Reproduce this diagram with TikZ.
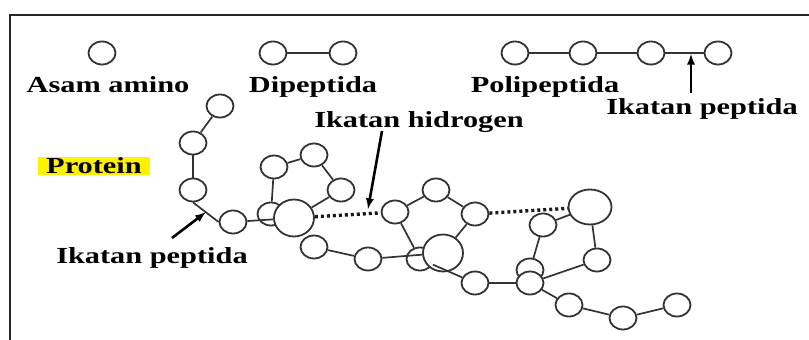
\documentclass[tikz,border=0pt]{standalone}
\usepackage{fontspec}
\newfontfamily\lblfont[FakeStretch=1.32]{Liberation Serif}
\usetikzlibrary{arrows,shapes,calc}

\tikzset{
  amino/.style={ellipse,draw=black!80,line width=1.8pt,minimum width=27pt,minimum height=23pt,inner sep=0pt},
  bigamino/.style={amino,fill=white,minimum width=40pt,minimum height=37pt},
  bond/.style={draw=black!80,line width=1.7pt},
  hbond/.style={draw=black!90,line width=3.4pt,dash pattern=on 3pt off 3pt},
  lbl/.style={font=\lblfont\bfseries\fontsize{23}{26}\selectfont,inner sep=0pt,anchor=base},
  pointer/.style={-latex,line width=2.6pt},
}

\begin{document}
\begin{tikzpicture}[x=1pt,y=-1pt]
\useasboundingbox (0,0) rectangle (809,340);
% frame
\draw[line width=2.2pt,black!85] (10,340) -- (10,15) -- (809,15);

% Amino acid, dipeptide, polypeptide
\node[amino] (aa) at (102,53) {};
\node[lbl] (aalbl) at (108,92) {Asam amino};
\node[amino] (dp1) at (273,53) {};
\node[amino] (dp2) at (343,53) {};
\draw[bond] (dp1) -- (dp2);
\node[lbl] (dplbl) at (313,92) {Dipeptida};
\foreach \i/\x in {1/515,2/583,3/651,4/718}
  \node[amino] (pp\i) at (\x,53) {};
\foreach \a/\b in {1/2,2/3,3/4}
  \draw[bond] (pp\a) -- (pp\b);
\node[lbl] (pplbl) at (545,92) {Polipeptida};
\node[lbl] (pblbl) at (702,114) {Ikatan peptida};
\coordinate (pbtail) at (691,93);
\coordinate (pbtip) at (691,54);
\draw[pointer] (pbtail) -- (pbtip);

% Protein
\node[lbl,fill=yellow,minimum width=112pt,text height=16pt,text depth=2pt] (prlbl) at (94,173) {Protein};

% chain, left part
\node[amino] (c1) at (220,106) {};
\node[amino] (c2) at (193,143) {};
\node[amino] (c3) at (193,190) {};
\node[amino] (c4) at (233,222) {};
\node[amino] (c5) at (274,167) {};
\node[amino] (c6) at (314,155) {};
\node[amino] (c7) at (341,190) {};
\node[amino] (sA) at (271,214) {};
\node[bigamino] (bA) at (294,218) {};
\node[amino] (c12) at (314,247) {};
\node[amino] (c13) at (368,259) {};

% chain, middle part
\node[amino] (c8) at (395,212) {};
\node[amino] (c9) at (436,190) {};
\node[amino] (c10) at (475,214) {};
\node[amino] (sB) at (420,259) {};
\node[bigamino] (bB) at (443,253) {};
\node[amino] (c14) at (475,283) {};

% chain, right part
\node[bigamino,minimum width=43pt,minimum height=35pt] (bR) at (590,207) {};
\node[amino] (c11) at (543,225) {};
\node[amino] (sC) at (530,270) {};
\node[amino,fill=white] (c15) at (530,283) {};
\node[amino] (c16) at (597,260) {};
\node[amino] (c17) at (569,305) {};
\node[amino] (c18) at (623,318) {};
\node[amino] (c19) at (677,305) {};

% peptide bonds
\draw[bond] (c1) -- (c2);
\draw[bond] (c2) -- (c3);
\draw[bond] (c3.south) -- (c4.west);
\draw[bond] (c4) -- (bA);
\draw[bond] (c5) -- (sA);
\draw[bond] (c5) -- (c6);
\draw[bond] (c6) -- (c7);
\draw[bond] (c7) -- (bA);
\draw[bond] (c12) -- (c13);
\draw[bond] (c13) -- (bB);
\draw[bond] (c8) -- (c9);
\draw[bond] (c9) -- (c10);
\draw[bond] (c8) -- (sB);
\draw[bond] (c10) -- (bB);
\draw[bond] (sB) -- (c14);
\draw[bond] (c14) -- (c15);
\draw[bond] (c11) -- (bR);
\draw[bond] (c11) -- (sC);
\draw[bond] (bR) -- (c16);
\draw[bond] (c15) -- (c16);
\draw[bond] (c15) -- (c17);
\draw[bond] (c17) -- (c18);
\draw[bond] (c18) -- (c19);

% hydrogen bonds
\draw[hbond] (bA) -- (c8);
\draw[hbond] (c10) -- (bR);

% pointers
\node[lbl] (hblbl) at (419,127) {Ikatan hidrogen};
\coordinate (hbtail) at (382,131);
\coordinate (hbtip) at (368,209);
\draw[pointer] (hbtail) -- (hbtip);
\node[lbl] (pblbl2) at (152,263) {Ikatan peptida};
\coordinate (pbtail2) at (172,238);
\coordinate (pbtip2) at ($(c3.south)!0.5!(c4.west)$);
\draw[pointer] (pbtail2) -- (pbtip2);
\end{tikzpicture}
\end{document}
